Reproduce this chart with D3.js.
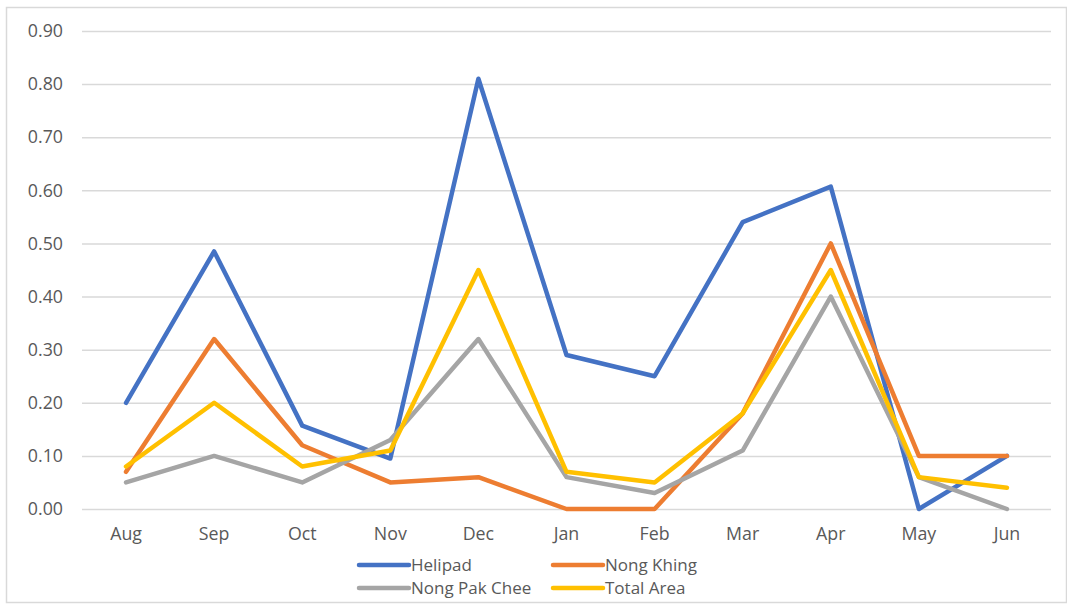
<!DOCTYPE html>
<html>
<head>
<meta charset="utf-8">
<script src="https://cdn.jsdelivr.net/npm/d3@7"></script>
<style>
  html, body { margin: 0; padding: 0; background: #fff; }
  svg { display: block; font-family: "Open Sans", "Noto Sans", sans-serif; }
</style>
</head>
<body>
<svg id="chart" width="1067" height="604"></svg>
<script>
// Monthly values per site
const months = ["Aug", "Sep", "Oct", "Nov", "Dec", "Jan", "Feb", "Mar", "Apr", "May", "Jun"];
const helipad     = [0.20, 0.485, 0.157, 0.095, 0.81, 0.29, 0.25, 0.54, 0.607, 0.00, 0.10];
const nongKhing   = [0.07, 0.32, 0.12, 0.05, 0.06, 0.00, 0.00, 0.18, 0.50, 0.10, 0.10];
const nongPakChee = [0.05, 0.10, 0.05, 0.13, 0.32, 0.06, 0.03, 0.11, 0.40, 0.06, 0.00];
const totalArea   = [0.08, 0.20, 0.08, 0.11, 0.45, 0.07, 0.05, 0.18, 0.45, 0.06, 0.04];
const yTicks = [0, 0.1, 0.2, 0.3, 0.4, 0.5, 0.6, 0.7, 0.8, 0.9];

const series = [
  { name: "Helipad",       values: helipad,     color: "#4472C4" },
  { name: "Nong Khing",    values: nongKhing,   color: "#ED7D31" },
  { name: "Nong Pak Chee", values: nongPakChee, color: "#A5A5A5" },
  { name: "Total Area",    values: totalArea,   color: "#FFC000" }
];

const svg = d3.select("#chart");
const plot = { left: 82, right: 1051, top: 31, bottom: 509 };
const fontSize = 17.8;
const legendFontSize = 17;

// chart frame
svg.append("rect")
  .attr("x", 6.5).attr("y", 7.5).attr("width", 1060).attr("height", 595)
  .attr("fill", "#fff").attr("stroke", "#d9d9d9").attr("stroke-width", 1.5);

const x = d3.scaleBand().domain(months).range([plot.left, plot.right]).paddingInner(0).paddingOuter(0);
const xc = m => x(m) + x.bandwidth() / 2;
const y = d3.scaleLinear().domain([0, 0.9]).range([plot.bottom, plot.top]);

// horizontal gridlines + y labels
const yAxis = d3.axisLeft(y).tickValues(yTicks).tickFormat(d3.format(".2f"))
  .tickSize(-(plot.right - plot.left)).tickPadding(19);
const gy = svg.append("g").attr("transform", `translate(${plot.left},0)`).call(yAxis);
gy.select(".domain").remove();
gy.selectAll(".tick line").attr("stroke", "#d9d9d9").attr("stroke-width", 1.5);
gy.selectAll(".tick text").attr("fill", "#595959").attr("font-size", fontSize)
  .attr("font-family", "'Open Sans', 'Noto Sans', sans-serif");

// x labels
const xAxis = d3.axisBottom(x).tickSize(0).tickPadding(18);
const gx = svg.append("g").attr("transform", `translate(0,${plot.bottom})`).call(xAxis);
gx.select(".domain").remove();
gx.selectAll(".tick text").attr("fill", "#595959").attr("font-size", fontSize)
  .attr("font-family", "'Open Sans', 'Noto Sans', sans-serif");

// lines
const line = d3.line().x((d, i) => xc(months[i])).y(d => y(d));
svg.append("g").selectAll("path").data(series).join("path")
  .attr("d", s => line(s.values))
  .attr("fill", "none")
  .attr("stroke", s => s.color)
  .attr("stroke-width", 4.5)
  .attr("stroke-linejoin", "round")
  .attr("stroke-linecap", "round");

// legend, two columns
const legendCols = [359, 553];
const legendRows = [565, 588];
const lg = svg.append("g").selectAll("g").data(series).join("g")
  .attr("transform", (s, i) => `translate(${legendCols[i % 2]},${legendRows[Math.floor(i / 2)]})`);
lg.append("line").attr("x1", 0).attr("x2", 50).attr("y1", 0).attr("y2", 0)
  .attr("stroke", s => s.color).attr("stroke-width", 4.5).attr("stroke-linecap", "round");
lg.append("text").attr("x", 52).attr("y", 0).attr("dy", "0.35em")
  .attr("fill", "#595959").attr("font-size", legendFontSize).text(s => s.name);
</script>
</body>
</html>
